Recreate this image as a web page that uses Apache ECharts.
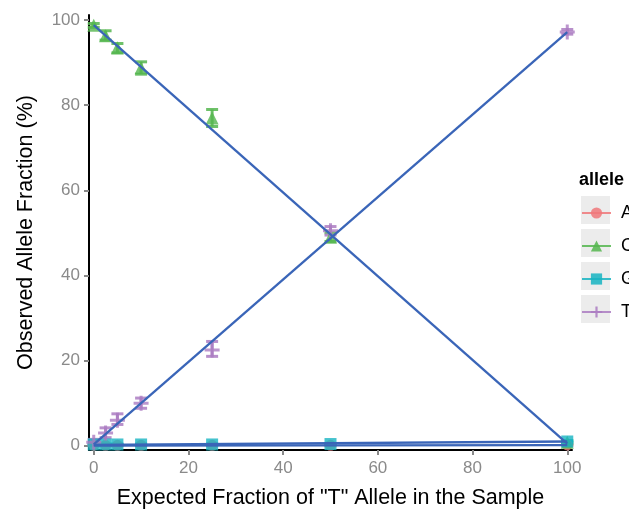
<!DOCTYPE html>
<html>
<head>
<meta charset="utf-8">
<script src="https://cdn.jsdelivr.net/npm/echarts@6/dist/echarts.min.js"></script>
<style>html,body{margin:0;padding:0;background:#fff}#c{width:629px;height:514px}</style>
</head>
<body>
<div id="c"></div>
<script>
// ---- data ----
const expected = [0, 2.5, 5, 10, 25, 50, 100];
const alleles = ['A', 'C', 'G', 'T'];
const obsA = [0.1, 0.1, 0.1, 0.1, 0.1, 0.1, 0.2];
const loA  = [0.0, 0.0, 0.0, 0.0, 0.0, 0.0, 0.1];
const hiA  = [0.2, 0.2, 0.2, 0.2, 0.2, 0.2, 0.3];
const obsC = [98.8, 96.3, 93.5, 88.8, 77.0, 49.0, 0.8];
const loC  = [98.3, 95.3, 92.3, 87.3, 75.0, 48.0, 0.5];
const hiC  = [99.2, 97.5, 94.5, 90.2, 79.0, 50.0, 1.1];
const obsG = [0.3, 0.3, 0.3, 0.3, 0.3, 0.4, 1.0];
const loG  = [0.2, 0.2, 0.2, 0.2, 0.2, 0.3, 0.8];
const hiG  = [0.4, 0.4, 0.4, 0.4, 0.4, 0.5, 1.2];
const obsT = [0.8, 3.0, 6.0, 10.0, 22.5, 50.5, 97.2];
const loT  = [0.3, 1.9, 5.0, 8.8, 21.0, 49.5, 96.7];
const hiT  = [1.5, 4.2, 7.5, 11.2, 24.5, 51.5, 97.8];
// fitted line endpoints (x, y)
const fitA = [[0, 0.05], [100, 0.15]];
const fitC = [[0, 98.8], [100, 0.5]];
const fitG = [[0, 0.2], [100, 1.0]];
const fitT = [[0, 0.3], [100, 97.2]];
const tickValues = [0, 20, 40, 60, 80, 100];

// ---- styles ----
const colors = {A: '#f0787a', C: '#55b64f', G: '#17b4c2', T: '#ab7cc2'};
const symbols = {
  A: 'circle',
  C: 'triangle',
  G: 'rect',
  T: 'path://M4,0h2v4h4v2h-4v4h-2v-4h-4v-2h4z'
};
const symSizes = {A: 11, C: 13, G: 12, T: 15};
const obs = {A: obsA, C: obsC, G: obsG, T: obsT};
const lo = {A: loA, C: loC, G: loG, T: loT};
const hi = {A: hiA, C: hiC, G: hiG, T: hiT};
const fits = {A: fitA, C: fitC, G: fitG, T: fitT};
const FONT = '"Liberation Sans", Arial, sans-serif';

const series = [];
alleles.forEach(a => {
  series.push({
    name: a + '_err', type: 'custom', z: 2,
    data: expected.map((x, i) => [x, lo[a][i], hi[a][i]]),
    encode: {x: 0, y: [1, 2]},
    renderItem: (params, api) => {
      const x = api.value(0);
      const p1 = api.coord([x, api.value(1)]);
      const p2 = api.coord([x, api.value(2)]);
      const w = 6;
      const st = {stroke: colors[a], lineWidth: 3, opacity: 0.85};
      return {type: 'group', children: [
        {type: 'line', shape: {x1: p1[0], y1: p1[1], x2: p2[0], y2: p2[1]}, style: st},
        {type: 'line', shape: {x1: p1[0] - w, y1: p1[1], x2: p1[0] + w, y2: p1[1]}, style: st},
        {type: 'line', shape: {x1: p2[0] - w, y1: p2[1], x2: p2[0] + w, y2: p2[1]}, style: st}
      ]};
    },
    silent: true
  });
});
alleles.forEach(a => {
  series.push({
    name: a, type: 'line', z: 3,
    data: expected.map((x, i) => [x, obs[a][i]]),
    symbol: symbols[a], symbolSize: symSizes[a], showSymbol: true,
    lineStyle: {opacity: 0},
    itemStyle: {color: colors[a], opacity: 0.8, borderWidth: 0},
    emphasis: {disabled: true},
    animation: false
  });
});
alleles.forEach(a => {
  series.push({
    name: a + '_fit', type: 'line', z: 5,
    data: fits[a], showSymbol: false, symbol: 'none',
    lineStyle: {color: '#3a65b8', width: 2.3},
    emphasis: {disabled: true},
    animation: false
  });
});

const option = {
  animation: false,
  textStyle: {fontFamily: FONT},
  title: {
    text: 'allele', left: 579, top: 171, padding: 0,
    textStyle: {fontFamily: FONT, fontSize: 18, fontWeight: 'bold', color: '#000'}
  },
  graphic: alleles.map((a, i) => ({
    type: 'rect', left: 581, top: 196 + i * 33, z: -1,
    shape: {width: 29, height: 28},
    style: {fill: '#ececec'}
  })),
  legend: {
    orient: 'vertical', left: 581, top: 203, padding: 0,
    itemWidth: 29, itemHeight: 14, itemGap: 13,
    data: alleles.map(a => ({
      name: a,
      lineStyle: {color: colors[a], width: 2, opacity: 0.85},
      itemStyle: {color: colors[a], opacity: 0.85}
    })),
    textStyle: {fontFamily: FONT, fontSize: 18, color: '#000', lineHeight: 20, padding: [0, 0, 0, 5]},
    selectedMode: false
  },
  grid: {left: 89, right: 57, top: 15, bottom: 63},
  xAxis: {
    type: 'value', min: -1, max: 101,
    name: 'Expected Fraction of "T" Allele in the Sample',
    nameLocation: 'middle', nameGap: 37,
    nameTextStyle: {fontFamily: FONT, fontSize: 21.5, color: '#000'},
    axisLine: {show: true, onZero: false, lineStyle: {color: '#000', width: 2}},
    axisTick: {show: true, length: 5, customValues: tickValues, lineStyle: {color: '#888', width: 2}},
    axisLabel: {customValues: tickValues, fontSize: 17, color: '#8a8a8a', margin: 10, fontFamily: FONT},
    splitLine: {show: false}
  },
  yAxis: {
    type: 'value', min: -1, max: 101.2,
    name: 'Observed Allele Fraction (%)',
    nameLocation: 'middle', nameGap: 52,
    nameTextStyle: {fontFamily: FONT, fontSize: 21.5, color: '#000'},
    axisLine: {show: true, onZero: false, lineStyle: {color: '#000', width: 2}},
    axisTick: {show: true, length: 5, customValues: tickValues, lineStyle: {color: '#888', width: 2}},
    axisLabel: {customValues: tickValues, fontSize: 17, color: '#8a8a8a', margin: 9, fontFamily: FONT},
    splitLine: {show: false}
  },
  series: series
};
const chart = echarts.init(document.getElementById('c'), null, {renderer: 'canvas'});
chart.setOption(option);
</script>
</body>
</html>
